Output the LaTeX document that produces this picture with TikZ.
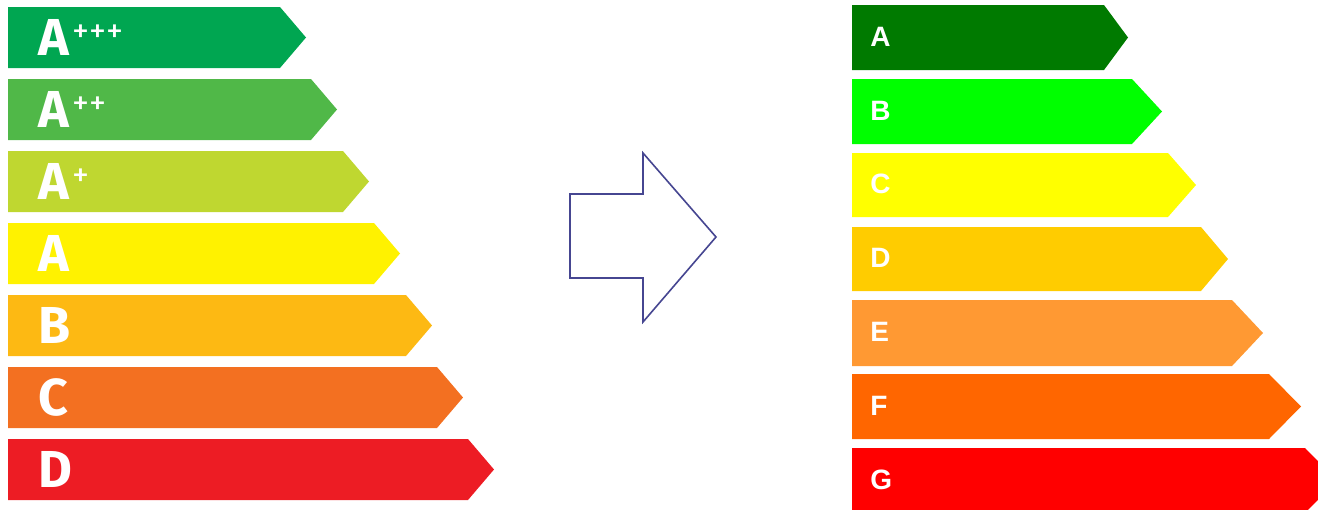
\documentclass[tikz,border=0pt]{standalone}
\usepackage{fontspec}
\newfontfamily\oldlabelfont{Fira Sans}
\newfontfamily\newlabelfont{Liberation Sans}
\usetikzlibrary{positioning}

\definecolor{oldAppp}{RGB}{0,166,81}
\definecolor{oldApp}{RGB}{80,184,72}
\definecolor{oldAp}{RGB}{191,215,48}
\definecolor{oldA}{RGB}{255,242,0}
\definecolor{oldB}{RGB}{253,185,19}
\definecolor{oldC}{RGB}{243,112,33}
\definecolor{oldD}{RGB}{237,28,36}
\definecolor{newA}{RGB}{0,122,0}
\definecolor{newB}{RGB}{0,255,0}
\definecolor{newC}{RGB}{255,255,0}
\definecolor{newD}{RGB}{255,204,0}
\definecolor{newE}{RGB}{255,153,51}
\definecolor{newF}{RGB}{255,102,0}
\definecolor{newG}{RGB}{255,0,0}
\definecolor{arrowline}{RGB}{70,70,145}

\tikzset{
  oldlabel/.style={anchor=base west, inner sep=0pt, text=white,
    font=\oldlabelfont\bfseries\fontsize{26}{26}\selectfont},
  newlabel/.style={anchor=base west, inner sep=0pt, text=white,
    font=\newlabelfont\bfseries\fontsize{14}{14}\selectfont},
}

\newcommand{\plus}[1]{\kern1.5pt\raisebox{6.5pt}{\mdseries\fontsize{17}{17}\selectfont #1}}

\begin{document}
\begin{tikzpicture}[x=0.5pt,y=-0.5pt]
    \useasboundingbox (0,0) rectangle (1318,509);
    \clip (0,0) rectangle (1318,509);

    \def\xo{8}    % left edge of old bars
    \def\xn{852}  % left edge of new bars

    % old scale
    \fill[oldAppp] (\xo,7) -- (280,7) -- (306,37.5) -- (280,68) -- (\xo,68) -- cycle;
    \fill[oldApp] (\xo,79) -- (311,79) -- (337,109.5) -- (311,140) -- (\xo,140) -- cycle;
    \fill[oldAp] (\xo,151) -- (343,151) -- (369,181.5) -- (343,212) -- (\xo,212) -- cycle;
    \fill[oldA] (\xo,223) -- (374,223) -- (400,253.5) -- (374,284) -- (\xo,284) -- cycle;
    \fill[oldB] (\xo,295) -- (406,295) -- (432,325.5) -- (406,356) -- (\xo,356) -- cycle;
    \fill[oldC] (\xo,367) -- (437,367) -- (463,397.5) -- (437,428) -- (\xo,428) -- cycle;
    \fill[oldD] (\xo,439) -- (468,439) -- (494,469.5) -- (468,500) -- (\xo,500) -- cycle;

    \node[oldlabel] (oldAppp) at (38,55.5) {A\plus{+++}};
    \node[oldlabel] (oldApp) at (38,127.5) {A\plus{++}};
    \node[oldlabel] (oldAp) at (38,199.5) {A\plus{+}};
    \node[oldlabel] (oldA) at (38,271.5) {A};
    \node[oldlabel] (oldB) at (38,343.5) {B};
    \node[oldlabel] (oldC) at (38,415.5) {C};
    \node[oldlabel] (oldD) at (38,487.5) {D};

    % arrow
    \draw[arrowline, line width=0.8, fill=white]
    (570,194) -- (643,194) -- (643,153) -- (716,237) -- (643,322) -- (643,278) -- (570,278) -- cycle;

    % new scale
    \fill[newA] (\xn,5) -- (1104,5) -- (1128,37.5) -- (1104,70) -- (\xn,70) -- cycle;
    \fill[newB] (\xn,79) -- (1132,79) -- (1162,111.5) -- (1132,144) -- (\xn,144) -- cycle;
    \fill[newC] (\xn,153) -- (1168,153) -- (1196,185) -- (1168,217) -- (\xn,217) -- cycle;
    \fill[newD] (\xn,227) -- (1201,227) -- (1228,259) -- (1201,291) -- (\xn,291) -- cycle;
    \fill[newE] (\xn,300) -- (1232,300) -- (1263,333) -- (1232,366) -- (\xn,366) -- cycle;
    \fill[newF] (\xn,374) -- (1269,374) -- (1301,406.5) -- (1269,439) -- (\xn,439) -- cycle;
    \fill[newG] (\xn,448) -- (1305,448) -- (1337,480.5) -- (1305,513) -- (\xn,513) -- cycle;

    \node[newlabel] (newA) at (870,46) {A};
    \node[newlabel] (newB) at (870,120) {B};
    \node[newlabel] (newC) at (870,193) {C};
    \node[newlabel] (newD) at (870,267) {D};
    \node[newlabel] (newE) at (870,341) {E};
    \node[newlabel] (newF) at (870,415) {F};
    \node[newlabel] (newG) at (870,489) {G};

\end{tikzpicture}
\end{document}
